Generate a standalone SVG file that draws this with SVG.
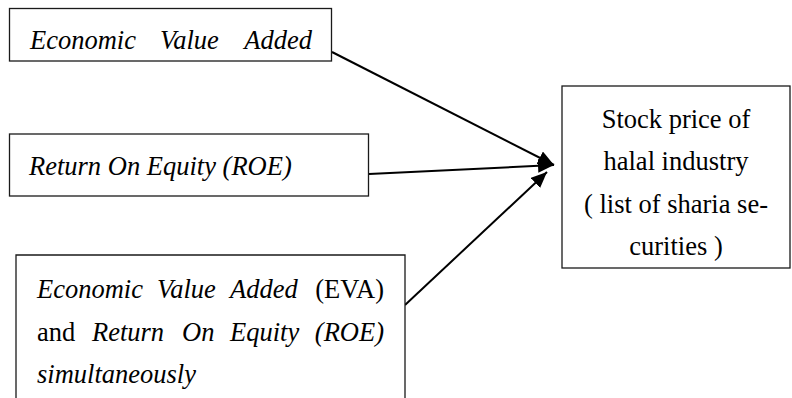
<svg xmlns="http://www.w3.org/2000/svg" width="792" height="398" viewBox="0 0 792 398">
<style>
.box{fill:#fff;stroke:#1a1a1a;stroke-width:1.3}
.t{font-family:"Liberation Serif","Times New Roman",serif;font-size:26.5px;fill:#000}
.i{font-style:italic}
.c{text-anchor:middle}
.e{text-anchor:end}
.ln{stroke:#000;stroke-width:2;fill:none}
</style>
<defs>
<marker id="ah" markerUnits="userSpaceOnUse" markerWidth="18" markerHeight="16" refX="16" refY="7" orient="auto">
<path d="M0,0 L16,7 L0,14 z" fill="#000"/>
</marker>
</defs>
<g id="connectors">
<line class="ln" x1="332" y1="52" x2="554" y2="165" marker-end="url(#ah)"/>
<line class="ln" x1="369" y1="174" x2="554" y2="165" marker-end="url(#ah)"/>
<line class="ln" x1="405" y1="305" x2="547" y2="172" marker-end="url(#ah)"/>
</g>
<g id="eva">
<rect class="box" x="9.5" y="8.5" width="322" height="52.5"/>
<text class="t i" x="30" y="49">Economic</text>
<text class="t i" x="160" y="49">Value</text>
<text class="t i e" x="312" y="49">Added</text>
</g>
<g id="roe">
<rect class="box" x="9.5" y="134" width="359" height="62"/>
<text class="t i" x="29" y="175">Return On Equity (ROE)</text>
</g>
<g id="both">
<path class="box" d="M16,400 L16,255 L405,255 L405,400"/>
<text class="t i" x="37" y="298">Economic</text>
<text class="t i" x="157" y="298">Value</text>
<text class="t i" x="230" y="298">Added</text>
<text class="t e" x="384" y="298">(EVA)</text>
<text class="t" x="37" y="341">and</text>
<text class="t i" x="92" y="341">Return</text>
<text class="t i" x="182" y="341">On</text>
<text class="t i" x="230" y="341">Equity</text>
<text class="t i e" x="384" y="341">(ROE)</text>
<text class="t i" x="37" y="383">simultaneously</text>
</g>
<g id="stock">
<rect class="box" x="562" y="86" width="228" height="182"/>
<text class="t c" x="676" y="127.5">Stock price of</text>
<text class="t c" x="676" y="170">halal industry</text>
<text class="t c" x="676" y="212.5">( list of sharia se-</text>
<text class="t c" x="676" y="255">curities )</text>
</g>
</svg>
